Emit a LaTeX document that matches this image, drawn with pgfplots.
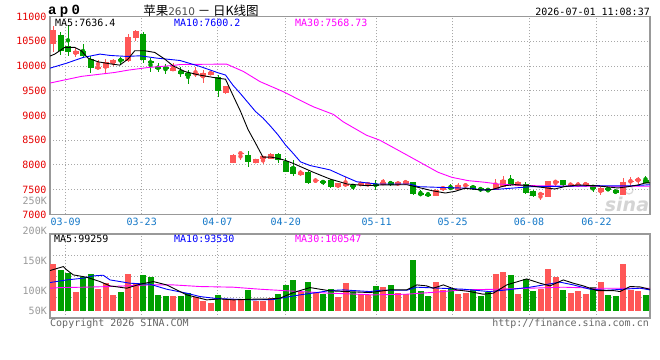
\documentclass[border=0pt]{standalone}
\usepackage{pgfplots}
\pgfplotsset{compat=1.18}
\usepackage{pgfplotstable}
\usepackage{fontspec}
\setmainfont{DejaVu Sans}
\setmonofont{DejaVu Sans Mono}
\newfontfamily\cjk{Noto Sans CJK SC}
\newfontfamily\codefont{Liberation Mono}

\definecolor{upred}{HTML}{FF5757}
\definecolor{dngreen}{HTML}{009F00}
\definecolor{pxred}{HTML}{E60000}
\definecolor{datebl}{HTML}{1478C8}
\definecolor{gridgr}{HTML}{A8A8A8}
\definecolor{framegr}{HTML}{999999}
\definecolor{volgr}{HTML}{9A9A9A}
\definecolor{foot}{HTML}{666666}
\definecolor{maten}{HTML}{0000FF}
\definecolor{mathirty}{HTML}{FF00FF}

\newcommand{\mono}{\ttfamily\fontsize{10bp}{12bp}\selectfont}

% daily bars: index, open, high, low, close, volume
\pgfplotstableread{
i o h l c v
0 10444 10803 10288 10736 144600
1 10627 10681 10227 10295 133900
2 10397 10830 10207 10275 129200
3 10234 10356 10186 10302 94600
4 10295 10444 10159 10207 120800
5 10139 10193 9868 9969 126800
6 9949 10125 9949 9983 100000
7 9969 10139 9834 10071 111300
8 10051 10139 10003 10112 89300
9 10139 10186 10037 10098 94600
10 10098 10648 10085 10593 126800
11 10559 10729 10512 10715 110700
12 10641 10695 10058 10125 125000
13 10091 10159 9881 10058 121400
14 9976 10051 9881 9949 89300
15 9976 10037 9834 9929 87500
16 9908 10057 9908 9962 87500
17 9901 9976 9786 9840 87500
18 9867 9922 9637 9806 92300
19 9834 9976 9772 9854 85100
20 9786 9922 9664 9854 78600
21 9820 9888 9820 9888 75000
22 9786 9820 9379 9494 89300
23 9461 9596 9433 9596 81500
24 8037 8213 8037 8193 81500
25 8225 8254 8091 8247 80400
26 8193 8281 7955 8057 98200
27 8044 8111 8044 8111 79100
28 8111 8172 8010 8172 79100
29 8125 8240 8118 8213 84500
30 8213 8240 8037 8105 91000
31 8080 8140 7853 7853 107100
32 7954 8090 7785 7818 116000
33 7805 7907 7785 7852 95200
34 7852 7873 7615 7635 112500
35 7669 7730 7629 7703 94600
36 7683 7703 7601 7628 91000
37 7697 7717 7534 7547 99400
38 7547 7629 7534 7629 86300
39 7594 7751 7547 7612 111300
40 7594 7615 7493 7560 95200
41 7588 7663 7581 7635 91000
42 7588 7635 7581 7635 89300
43 7615 7696 7493 7581 105400
44 7601 7717 7601 7662 104200
45 7662 7683 7581 7601 107100
46 7601 7649 7601 7649 93500
47 7615 7703 7601 7669 90500
48 7649 7663 7392 7412 151800
49 7426 7493 7371 7392 97000
50 7412 7459 7358 7385 87500
51 7378 7514 7364 7493 113000
52 7493 7582 7480 7561 98200
53 7547 7615 7493 7520 99400
54 7493 7629 7493 7595 91000
55 7568 7615 7561 7602 93500
56 7581 7602 7493 7514 99400
57 7534 7548 7459 7493 87500
58 7514 7527 7446 7480 95200
59 7493 7717 7493 7615 126800
60 7561 7785 7548 7697 130400
61 7717 7805 7581 7602 125000
62 7581 7663 7568 7663 91000
63 7615 7663 7412 7432 117300
64 7480 7493 7344 7378 97000
65 7398 7425 7297 7425 99400
66 7358 7683 7358 7670 135700
67 7649 7704 7568 7670 120800
68 7697 7697 7561 7602 98200
69 7592 7615 7581 7612 92300
70 7581 7649 7561 7615 96400
71 7595 7629 7581 7629 90500
72 7602 7602 7446 7514 103000
73 7446 7548 7392 7534 112500
74 7534 7548 7466 7493 89300
75 7500 7500 7412 7432 87500
76 7398 7737 7398 7663 144600
77 7663 7751 7581 7683 98200
78 7683 7765 7615 7717 96400
79 7704 7785 7636 7636 89300
}\kline

\pgfplotsset{
  kbase/.style={
    scale only axis, width=600bp, xmin=-0.4, xmax=79.6,
    axis line style={framegr, line width=1.2bp},
    xtick={1.69,11.83,21.91,31.03,43.16,53.29,63.47,72.47},
    grid=major,
    major grid style={gridgr, line width=0.9bp, dash pattern=on 1bp off 2bp},
    major tick length=0pt,
    clip mode=individual,
    scaled y ticks=false,
    /pgf/number format/assume math mode=true,
    ticklabel style={font=\mono},
  },
  rising/.style={restrict expr to domain={\thisrow{c}-\thisrow{o}}{0:100000}},
  falling/.style={restrict expr to domain={\thisrow{c}-\thisrow{o}}{-100000:-0.001}},
  stick/.style n args={3}{only marks, mark=none, forget plot, #1, color=#3,
    error bars/.cd, y dir=both, y explicit, error mark=none,
    error bar style={line width=#2, color=#3}},
}

\begin{document}
\begin{tikzpicture}
\useasboundingbox (0,0) rectangle (660bp,360bp);
\fill[white] (0,0) rectangle (660bp,360bp);
% faint site mark behind the price panel
\node[font=\bfseries\itshape\fontsize{19bp}{19bp}\selectfont, text=black!17] at (627bp,156bp) {sina};
\draw[black!15, line width=1.2bp] (629bp,170bp) circle (4bp);

% ---------------- price panel ----------------
\begin{axis}[kbase,
  at={(50bp,145.6bp)}, anchor=south west, height=197.9bp,
  ymin=7000, ymax=11000, ytick={7000,7500,...,11000},
  xticklabels={03-09,03-23,04-07,04-20,05-11,05-25,06-08,06-22},
  xticklabel style={text=datebl},
  yticklabel style={text=pxred, /pgf/number format/.cd, fixed, 1000 sep={}},
]
% wicks
\addplot[stick={rising}{1bp}{upred}]
  table[x=i, y expr={(\thisrow{h}+\thisrow{l})/2}, y error expr={(\thisrow{h}-\thisrow{l})/2}] {\kline};
\addplot[stick={falling}{1bp}{dngreen}]
  table[x=i, y expr={(\thisrow{h}+\thisrow{l})/2}, y error expr={(\thisrow{h}-\thisrow{l})/2}] {\kline};
% bodies
\addplot[stick={rising}{6bp}{upred}]
  table[x=i, y expr={(\thisrow{o}+\thisrow{c})/2}, y error expr={abs(\thisrow{c}-\thisrow{o})/2}] {\kline};
\addplot[stick={falling}{6bp}{dngreen}]
  table[x=i, y expr={(\thisrow{o}+\thisrow{c})/2}, y error expr={abs(\thisrow{c}-\thisrow{o})/2}] {\kline};
% MA30
\addplot[mathirty, line width=0.9bp, mark=none] coordinates {
(-0.4,9655) (3.8,9790) (8.2,9868) (10,9915) (12.67,9969) (16,10010) (17,10030)
(22.27,10037) (23.16,10037) (25.4,9888) (27.6,9684) (30.7,9481) (32.9,9311)
(34.7,9176) (37.4,9020) (38.7,8871) (41.8,8600) (43.6,8498) (46.3,8274)
(48.9,8057) (51.33,7852) (53.16,7750) (55.33,7683) (57.6,7649) (59.33,7615)
(61.6,7595) (63.87,7581) (70,7568) (79.6,7569)};
% MA10
\addplot[maten, line width=0.9bp, mark=none] coordinates {
(-0.4,9956) (1.83,10057) (4,10172) (6.27,10240) (7.6,10213) (9.83,10193)
(11.6,10206) (13.83,10159) (16.93,10111) (19.6,9990) (22,9863) (23,9817)
(24,9610) (25,9440) (26,9260) (27,9080) (28,8947) (29,8783) (30,8608)
(31,8404) (32,8237) (33,8062) (34.27,7988) (36.93,7900) (38.67,7780)
(40.5,7660) (43.16,7615) (47.6,7615) (48.67,7561) (51.33,7547) (55.8,7527)
(57.16,7493) (59.8,7514) (63.8,7561) (67.7,7568) (72.2,7581) (76.67,7575)
(79.6,7600)};
% MA5
\addplot[black, line width=0.9bp, mark=none] coordinates {
(-0.4,10200) (0.23,10240) (1.56,10376) (2.9,10376) (3.77,10308) (4.67,10159)
(6,10084) (7.33,10050) (8.9,10017) (10,10139) (10.9,10308) (12.2,10308)
(13.56,10274) (14.9,10139) (16,10003) (17.6,9887) (19.4,9820) (22,9752)
(23,9733) (24,9405) (25,9084) (26,8717) (27,8441) (28,8156) (29,8160)
(30,8132) (31,8091) (32,8032) (34.7,7852) (36.9,7717) (39.2,7615) (41.8,7581)
(43.6,7595) (47.2,7600) (48.3,7561) (50.5,7480) (52.3,7432) (53.6,7466)
(54.9,7527) (57.2,7493) (58.5,7500) (60.3,7581) (61.6,7602) (63.4,7581)
(65.1,7548) (66.9,7514) (68.2,7561) (70,7595) (72.2,7581) (73.6,7561)
(75.3,7534) (76.7,7561) (78,7595) (79,7636) (79.6,7636)};
\end{axis}

% ---------------- volume panel ----------------
\begin{axis}[kbase,
  at={(50bp,42bp)}, anchor=south west, height=84bp,
  ymin=48000, ymax=198000, ytick={85500,123000,160500},
  xticklabels={}, yticklabels={},
]
\addplot[stick={rising}{6bp}{upred}]
  table[x=i, y expr={(\thisrow{v}+60700)/2}, y error expr={(\thisrow{v}-60700)/2}] {\kline};
\addplot[stick={falling}{6bp}{dngreen}]
  table[x=i, y expr={(\thisrow{v}+60700)/2}, y error expr={(\thisrow{v}-60700)/2}] {\kline};
% MA30
\addplot[mathirty, line width=0.9bp, mark=none] coordinates {
(-0.4,101200) (0.93,102300) (4.04,103000) (7.6,104200) (12.93,107100)
(16.04,107100) (19.6,104200) (24.04,103000) (27.6,99400) (30.7,97000)
(32.93,95200) (36.93,92300) (39.6,91000) (42.7,89300) (47.16,90500)
(50.27,93400) (54.7,98200) (59.16,99400) (63.6,101200) (68.04,103000)
(72.5,101200) (79.6,101200)};
% MA10
\addplot[maten, line width=0.9bp, mark=none] coordinates {
(-0.4,111300) (1.83,116000) (4.04,119100) (5.37,123200) (6.7,124400)
(7.6,116000) (10.27,110100) (12.93,108300) (15.16,99400) (17.83,92300)
(19.6,86300) (21.83,82700) (24.04,81600) (26.7,80400) (29.37,81000)
(31.16,85200) (32.93,89300) (35.16,93400) (36.93,97000) (38.7,98200)
(42.27,95200) (43.6,97500) (47.16,97500) (48.5,103000) (51.6,101200)
(54.7,99400) (58.2,95200) (60.5,98200) (63.6,103000) (67.6,112000)
(69.37,107100) (71.6,99400) (73.8,97500) (76.04,99400) (78.27,101200)
(79.6,98200)};
% MA5
\addplot[black, line width=0.9bp, mark=none] coordinates {
(-0.4,132700) (1.37,139800) (1.83,133900) (2.7,125000) (4.5,120800)
(6.27,113000) (7.6,105400) (9.83,101200) (11.6,108300) (13.37,113000)
(15.16,107100) (17.83,89300) (20.5,80400) (22.27,82100) (24.04,80400)
(26.7,81600) (28.5,81600) (30.27,83400) (32.04,93400) (34.27,102300)
(36.93,96500) (39.16,95200) (42.27,93400) (44.93,98200) (47.16,98200)
(48.5,107100) (49.8,105400) (50.7,101200) (52.04,107100) (53.8,98200)
(55.6,95200) (57.37,90500) (58.7,92300) (60.5,107100) (63.16,117800)
(64.93,110100) (66.27,105400) (68.04,116000) (69.37,110100) (70.7,105400)
(72.5,97000) (74.7,97000) (75.6,95200) (76.93,104200) (78.27,103500)
(79.6,99300)};
\end{axis}

% ---------------- header and captions ----------------
\node[anchor=west, inner sep=0, font=\codefont\bfseries\fontsize{14bp}{14bp}\selectfont]
  at (48bp,349bp) {a\hspace{3.3bp}p\hspace{3.3bp}0};
\node[inner sep=0] at (201bp,349bp) {\cjk\fontsize{12.5bp}{14bp}\selectfont 苹果{\fontspec{DejaVu Sans}\fontsize{10.5bp}{12bp}\selectfont\color{black!70}2610} － 日K线图};
\node[anchor=east, inner sep=0, font=\mono] at (650bp,348.5bp) {2026-07-01 11:08:37};

\node[anchor=west, inner sep=0, font=\mono, text=black] at (55bp,337bp) {MA5:7636.4};
\node[anchor=west, inner sep=0, font=\mono, text=maten] at (174bp,337bp) {MA10:7600.2};
\node[anchor=west, inner sep=0, font=\mono, text=mathirty] at (295bp,337bp) {MA30:7568.73};

\node[anchor=east, inner sep=0, font=\mono, text=volgr] at (47bp,159.5bp) {250K};

\node[anchor=west, inner sep=0, font=\mono, text=black] at (54bp,121.5bp) {MA5:99259};
\node[anchor=west, inner sep=0, font=\mono, text=maten] at (174bp,121.5bp) {MA10:93530};
\node[anchor=west, inner sep=0, font=\mono, text=mathirty] at (295bp,121.5bp) {MA30:100547};

\node[anchor=east, inner sep=0, font=\mono, text=volgr] at (47bp,129.5bp) {200K};
\node[anchor=east, inner sep=0, font=\mono, text=volgr] at (47bp,99bp) {150K};
\node[anchor=east, inner sep=0, font=\mono, text=volgr] at (47bp,69.5bp) {100K};
\node[anchor=east, inner sep=0, font=\mono, text=volgr] at (47bp,49.5bp) {50K};

\node[anchor=west, inner sep=0, font=\mono, text=foot] at (50bp,36.5bp) {Copyright 2026 SINA.COM};
\node[anchor=east, inner sep=0, font=\mono, text=foot] at (649bp,36.5bp) {http://finance.sina.com.cn};
\end{tikzpicture}
\end{document}
